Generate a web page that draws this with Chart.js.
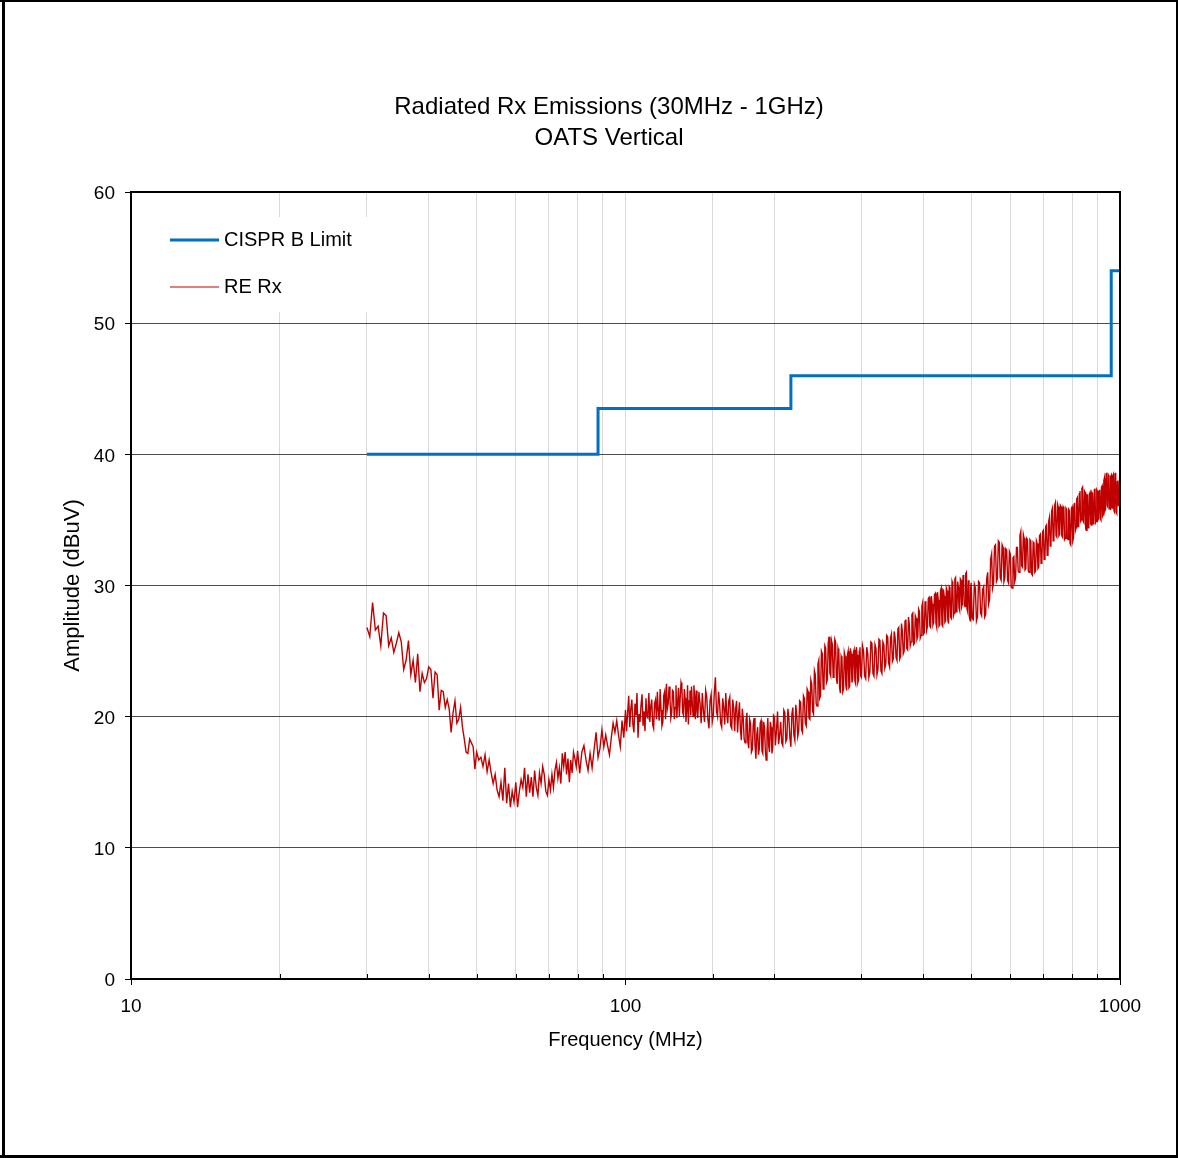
<!DOCTYPE html>
<html>
<head>
<meta charset="utf-8">
<script src="https://cdn.jsdelivr.net/npm/chart.js@4/dist/chart.umd.min.js"></script>
<style>
  html, body { margin: 0; padding: 0; background: #fff; }
  #wrap { width: 1178px; height: 1158px; }
</style>
</head>
<body>
<div id="wrap"><canvas id="chart" width="1178" height="1158"></canvas></div>
<script>
// CISPR B limit, stepped (MHz, dBuV)
const limitFreq = [30, 88, 88, 216, 216, 960, 960, 1000];
const limitLevel = [40, 40, 43.5, 43.5, 46, 46, 54, 54];

// Receiver scan: [frequency MHz, level dBuV]
const rxScan = [
  // 30 - 100 MHz
  [30.0,26.8],[30.4,26.1],[30.8,28.7],[31.2,26.6],[31.6,26.9],[32.0,25.4],[32.4,27.9],[32.8,27.7],[33.2,25.4],[33.6,26.0],
  [34.0,24.9],[34.4,25.6],[34.8,26.4],[35.2,25.7],[35.6,23.6],[36.0,24.3],[36.4,25.8],[36.8,23.2],[37.2,24.3],[37.6,22.6],
  [38.0,24.8],[38.4,21.9],[38.8,23.3],[39.2,22.6],[39.6,22.9],[40.0,23.8],[40.4,23.6],[40.8,21.4],[41.2,23.4],[41.6,23.2],
  [42.0,20.5],[42.4,22.0],[42.8,21.9],[43.2,20.7],[43.6,21.3],[44.0,20.6],[44.4,18.8],[44.8,20.3],[45.2,21.2],[45.6,19.5],
  [46.0,19.8],[46.4,20.7],[46.8,19.2],[47.2,18.3],[47.6,17.3],[48.0,17.2],[48.4,18.3],[48.8,18.0],[49.2,17.7],[49.6,16.0],
  [50.0,17.3],[50.5,16.7],[51.0,16.9],[51.5,16.2],[52.0,17.1],[52.5,15.8],[53.0,16.7],[53.5,15.7],[54.0,14.9],[54.5,15.6],
  [55.0,14.4],[55.5,13.9],[56.0,15.0],[56.5,13.6],[57.0,16.1],[57.5,13.4],[58.0,14.9],[58.5,13.1],[59.0,14.3],[59.5,13.5],
  [60.0,15.0],[60.5,13.1],[61.0,14.3],[61.5,15.2],[62.0,14.6],[62.5,16.1],[63.0,13.9],[63.5,15.6],[64.0,14.2],[64.5,15.4],
  [65.0,13.9],[65.5,15.9],[66.0,14.6],[66.5,14.0],[67.0,15.7],[67.5,14.9],[68.0,16.2],[68.5,15.6],[69.0,14.3],[69.5,14.0],
  [70.0,15.2],[70.5,14.4],[71.0,15.6],[71.5,14.6],[72.0,15.9],[72.5,16.5],[73.0,15.3],[73.5,16.1],[74.0,14.9],[74.5,17.2],
  [75.0,16.2],[75.5,17.3],[76.0,15.6],[76.5,16.8],[77.0,15.0],[77.5,16.7],[78.0,15.7],[78.5,17.3],[79.0,16.8],[79.5,16.2],
  [80.0,17.4],[80.8,15.7],[81.6,17.3],[82.4,17.8],[83.2,16.7],[84.0,15.9],[84.8,17.2],[85.6,16.1],[86.4,17.5],[87.2,18.8],
  [88.0,16.9],[88.8,17.6],[89.6,19.0],[90.4,17.7],[91.2,18.6],[92.0,17.8],[92.8,17.1],[93.6,18.4],[94.4,19.5],[95.2,18.8],
  [96.0,19.7],[96.8,18.6],[97.6,17.7],[98.4,19.7],[99.2,18.4],
  // 100 - 140 MHz
  [100,20.5],[100.5,18.9],[101,20.3],[101.5,21.6],[102,19.2],[102.5,20.6],[103,21.3],[103.5,19.4],[104,18.8],[104.5,21.0],
  [105,20.1],[105.5,21.8],[106,18.4],[106.5,20.2],[107,19.6],[107.5,20.9],[108,21.7],[108.5,19.3],[109,20.4],[109.5,18.9],
  [110,21.4],[110.5,20.0],[111,19.9],[111.5,21.8],[112,19.6],[112.5,20.8],[113,21.3],[113.5,19.4],[114,19.1],[114.5,21.0],
  [115,21.3],[115.5,19.8],[116,21.9],[116.5,20.4],[117,19.7],[117.5,22.1],[118,20.5],[118.5,19.3],[119,19.6],[119.5,21.6],
  [120,21.9],[120.5,19.8],[121,22.5],[121.5,20.6],[122,21.0],[122.5,22.3],[123,21.4],[123.5,19.9],[124,20.3],[124.5,22.0],
  [125,21.9],[125.5,19.8],[126,20.7],[126.5,22.4],[127,19.9],[127.5,21.1],[128,22.2],[128.5,20.0],[129,21.4],[129.5,22.6],
  [130,22.3],[130.5,20.3],[131,20.1],[131.5,22.1],[132,21.4],[132.5,19.6],[133,20.5],[133.5,22.4],[134,19.4],[134.5,21.2],
  [135,22.0],[135.5,20.1],[136,22.3],[136.5,21.0],[137,20.0],[137.5,22.4],[138,21.5],[138.5,19.8],[139,22.0],[139.5,20.6],
  // 140 - 200 MHz
  [140,19.9],[140.75,21.9],[141.5,21.0],[142.25,19.5],[143,21.8],[143.75,20.4],[144.5,19.6],[145.25,22.0],[146,21.5],[146.75,19.8],
  [147.5,19.1],[148.25,21.2],[149,21.7],[149.75,19.6],[150.5,20.1],[151.25,21.9],[152,23.0],[152.75,20.4],[153.5,20.0],[154.25,21.9],
  [155,21.0],[155.75,19.5],[156.5,19.2],[157.25,21.4],[158,20.7],[158.75,19.4],[159.5,21.8],[160.25,20.2],[161,19.5],[161.75,21.2],
  [162.5,21.5],[163.25,19.3],[164,19.1],[164.75,21.3],[165.5,20.7],[166.25,18.9],[167,20.6],[167.75,21.2],[168.5,18.8],[169.25,20.1],
  [170,21.1],[170.75,19.0],[171.5,18.2],[172.25,20.6],[173,19.9],[173.75,18.3],[174.5,18.0],[175.25,19.7],[176,20.3],[176.75,18.1],
  [177.5,17.6],[178.25,19.8],[179,19.5],[179.75,17.3],[180.5,17.5],[181.25,19.4],[182,19.9],[182.75,17.9],[183.5,16.8],[184.25,18.6],
  [185,19.2],[185.75,17.1],[186.5,17.6],[187.25,19.5],[188,19.7],[188.75,17.4],[189.5,17.2],[190.25,19.6],[191,19.2],[191.75,17.5],
  [192.5,16.7],[193.25,18.8],[194,19.9],[194.75,17.8],[195.5,17.3],[196.25,19.6],[197,19.2],[197.75,17.2],[198.5,17.7],[199.25,20.1],
  // 200 - 300 MHz
  [200,20.0],[201,17.8],[202,19.0],[203,20.4],[204,17.9],[205,18.6],[206,19.6],[207,18.0],[208,17.8],[209,20.5],
  [210,20.3],[211,18.1],[212,18.3],[213,20.6],[214,19.9],[215,18.4],[216,17.7],[217,20.2],[218,20.7],[219,18.6],
  [220,18.2],[221,20.9],[222,20.1],[223,18.5],[224,18.9],[225,21.2],[226,21.1],[227,19.0],[228,18.8],[229,21.6],
  [230,21.4],[231,19.5],[232,19.3],[233,22.1],[234,21.9],[235,19.9],[236,19.8],[237,22.8],[238,22.5],[239,20.4],
  [240,20.2],[241,23.5],[242,23.2],[243,21.0],[244,20.8],[245,24.0],[246,24.3],[247,21.4],[248,21.6],[249,25.0],
  [250,24.8],[251,22.1],[252,22.4],[253,25.4],[254,25.2],[255,22.6],[256,22.8],[257,25.6],[258,26.1],[259,23.3],
  [260,23.1],[261,25.8],[262,25.5],[263,23.0],[264,23.4],[265,25.9],[266,25.7],[267,22.9],[268,22.5],[269,25.2],
  [270,24.9],[271,22.2],[272,21.8],[273,24.6],[274,24.4],[275,21.9],[276,22.1],[277,24.9],[278,24.6],[279,22.4],
  [280,22.0],[281,24.7],[282,25.0],[283,22.2],[284,22.3],[285,25.2],[286,24.8],[287,22.6],[288,22.9],[289,24.9],
  [290,25.1],[291,22.7],[292,22.5],[293,25.3],[294,24.7],[295,22.6],[296,22.8],[297,25.0],[298,25.3],[299,23.1],
  // 300 - 500 MHz
  [300,23.0],[301.5,25.4],[303,25.0],[304.5,23.1],[306,22.9],[307.5,25.3],[309,24.8],[310.5,23.0],[312,23.4],[313.5,25.7],
  [315,25.6],[316.5,23.3],[318,23.1],[319.5,25.5],[321,25.2],[322.5,23.2],[324,23.6],[325.5,25.9],[327,25.8],[328.5,23.5],
  [330,23.3],[331.5,25.7],[333,25.5],[334.5,23.7],[336,24.0],[337.5,26.2],[339,26.1],[340.5,24.1],[342,23.8],[343.5,26.0],
  [345,26.3],[346.5,24.2],[348,24.4],[349.5,26.5],[351,26.0],[352.5,24.5],[354,24.3],[355.5,26.7],[357,26.8],[358.5,24.4],
  [360,24.6],[361.5,27.1],[363,26.5],[364.5,24.8],[366,25.0],[367.5,27.3],[369,27.4],[370.5,25.2],[372,25.1],[373.5,27.6],
  [375,27.0],[376.5,25.4],[378,25.7],[379.5,27.8],[381,27.9],[382.5,25.5],[384,25.6],[385.5,27.7],[387,27.5],[388.5,25.9],
  [390,26.1],[391.5,28.2],[393,28.0],[394.5,26.0],[396,26.2],[397.5,28.4],[399,28.7],[400.5,26.3],[402,26.4],[403.5,28.8],
  [405,28.3],[406.5,26.6],[408,26.9],[409.5,29.0],[411,29.1],[412.5,26.9],[414,26.8],[415.5,29.2],[417,28.6],[418.5,27.0],
  [420,27.2],[421.5,29.3],[423,29.4],[424.5,27.1],[426,26.8],[427.5,29.5],[429,28.9],[430.5,26.9],[432,27.0],[433.5,29.6],
  [435,29.8],[436.5,27.0],[438,26.9],[439.5,29.7],[441,29.2],[442.5,27.2],[444,27.3],[445.5,29.8],[447,29.6],[448.5,27.4],
  [450,27.1],[451.5,29.9],[453,29.8],[454.5,27.6],[456,27.5],[457.5,30.3],[459,30.1],[460.5,27.7],[462,27.9],[463.5,30.5],
  [465,30.6],[466.5,28.0],[468,28.2],[469.5,30.3],[471,29.9],[472.5,28.3],[474,28.1],[475.5,30.5],[477,30.4],[478.5,28.4],
  [480,28.6],[481.5,30.8],[483,30.2],[484.5,28.5],[486,28.4],[487.5,30.9],[489,31.0],[490.5,28.2],[492,28.0],[493.5,30.4],
  [495,30.0],[496.5,27.5],[498,27.3],[499,29.8],
  // 500 - 1000 MHz
  [500,30.2],[502.5,27.5],[505,27.4],[507.5,30.1],[510,29.8],[512.5,27.3],[515,27.6],[517.5,30.3],[520,30.2],[522.5,27.9],
  [525,27.7],[527.5,29.7],[530,29.9],[532.5,27.6],[535,27.8],[537.5,30.5],[540,31.0],[542.5,28.6],[545,29.0],[547.5,32.0],
  [550,32.4],[552.5,29.8],[555,30.2],[557.5,33.0],[560,33.1],[562.5,30.3],[565,30.5],[567.5,33.4],[570,33.3],[572.5,30.6],
  [575,30.4],[577.5,33.1],[580,32.9],[582.5,30.3],[585,30.6],[587.5,32.8],[590,32.7],[592.5,30.4],[595,30.2],[597.5,32.6],
  [600,32.4],[602.5,29.9],[605,29.8],[607.5,32.1],[610,32.2],[612.5,30.3],[615,30.6],[617.5,32.9],[620,32.9],[622.5,31.1],
  [625,31.0],[627.5,33.8],[630,34.1],[632.5,31.5],[635,31.4],[637.5,33.9],[640,33.6],[642.5,31.2],[645,31.3],[647.5,33.6],
  [650,33.5],[652.5,31.1],[655,31.0],[657.5,33.5],[660,33.4],[662.5,30.9],[665,30.8],[667.5,33.3],[670,33.2],[672.5,31.0],
  [675,31.1],[677.5,33.4],[680,33.2],[682.5,31.3],[685,31.4],[687.5,33.8],[690,33.9],[692.5,31.7],[695,31.9],[697.5,34.1],
  [700,34.2],[702.5,32.0],[705,32.1],[707.5,34.5],[710,34.6],[712.5,32.3],[715,32.4],[717.5,34.9],[720,35.2],[722.5,33.0],
  [725,33.2],[727.5,35.7],[730,35.9],[732.5,33.4],[735,33.5],[737.5,36.1],[740,36.3],[742.5,33.8],[745,33.7],[747.5,36.2],
  [750,36.0],[752.5,33.8],[755,33.9],[757.5,36.1],[760,36.0],[762.5,33.8],[765,33.7],[767.5,36.0],[770,35.9],[772.5,33.5],
  [775,33.6],[777.5,35.9],[780,35.8],[782.5,33.6],[785,33.5],[787.5,35.8],[790,35.7],[792.5,33.2],[795,33.1],[797.5,35.9],
  [800,36.0],[802.5,33.4],[805,33.6],[807.5,36.2],[810,36.3],[812.5,34.2],[815,34.4],[817.5,36.6],[820,36.7],[822.5,34.5],
  [825,34.6],[827.5,37.0],[830,37.2],[832.5,34.9],[835,35.0],[837.5,37.4],[840,37.5],[842.5,34.9],[845,34.8],[847.5,37.2],
  [850,37.1],[852.5,34.3],[855,34.2],[857.5,36.9],[860,36.9],[862.5,34.4],[865,34.5],[867.5,37.0],[870,37.1],[872.5,34.7],
  [875,34.6],[877.5,37.1],[880,37.0],[882.5,34.7],[885,34.8],[887.5,37.3],[890,37.4],[892.5,34.8],[895,34.9],[897.5,37.3],
  [900,37.2],[902.5,35.0],[905,35.1],[907.5,37.2],[910,37.3],[912.5,35.1],[915,35.0],[917.5,37.5],[920,37.6],[922.5,35.3],
  [925,35.4],[927.5,38.0],[930,38.2],[932.5,35.7],[935,35.8],[937.5,38.5],[940,38.6],[942.5,36.1],[945,36.0],[947.5,38.4],
  [950,38.3],[952.5,35.9],[955,35.8],[957.5,38.3],[960,38.4],[962.5,36.0],[965,35.9],[967.5,38.4],[970,38.5],[972.5,35.7],
  [975,35.6],[977.5,38.5],[980,38.6],[982.5,35.6],[985,35.5],[987.5,37.9],[990,38.0],[992.5,36.1],[995,36.2],[997.5,37.8],
  [1000,37.6]
];

const xLabelled = [10, 100, 1000];
const titleLines = ['Radiated Rx Emissions (30MHz - 1GHz)', 'OATS Vertical'];
const FONT = '"Liberation Sans", Arial, sans-serif';

const isMajor = (v) => xLabelled.includes(Math.round(v));

// White page, outer frame and the two-line title.
const pagePlugin = {
  id: 'page',
  beforeDraw(chart) {
    const { ctx } = chart;
    ctx.save();
    ctx.fillStyle = '#fff';
    ctx.fillRect(0, 0, chart.width, chart.height);
    ctx.fillStyle = '#000';
    ctx.fillRect(2, 0, 3, chart.height);
    ctx.fillRect(0, 0, chart.width, 2);
    ctx.fillRect(0, chart.height - 3, chart.width, 3);
    ctx.fillRect(chart.width - 2, 0, 2, chart.height);
    ctx.font = '24px ' + FONT;
    ctx.textAlign = 'center';
    ctx.textBaseline = 'middle';
    ctx.fillText(titleLines[0], 609, 107);
    ctx.fillText(titleLines[1], 609, 138);
    ctx.restore();
  },
  // legend box sits on top of the grid, below the traces
  beforeDatasetsDraw(chart) {
    const { ctx, chartArea } = chart;
    const ds = chart.data.datasets;
    ctx.save();
    ctx.fillStyle = '#fff';
    ctx.fillRect(chartArea.left + 1, 217, 238, 95);
    ctx.font = '20px ' + FONT;
    ctx.textBaseline = 'middle';
    ctx.textAlign = 'left';
    [[240, ds[0], 3], [287, ds[1], 1]].forEach(([y, d, w]) => {
      ctx.strokeStyle = d.borderColor;
      ctx.lineWidth = w;
      ctx.beginPath();
      ctx.moveTo(170, y);
      ctx.lineTo(219, y);
      ctx.stroke();
      ctx.fillStyle = '#000';
      ctx.fillText(d.label, 224, y);
    });
    ctx.restore();
  },
  afterDraw(chart) {
    const { ctx, chartArea } = chart;
    const xs = chart.scales.x;
    ctx.save();
    ctx.strokeStyle = '#000';
    ctx.lineWidth = 2;
    ctx.strokeRect(chartArea.left, chartArea.top, chartArea.right - chartArea.left, chartArea.bottom - chartArea.top);
    // small inward ticks on the minor decades
    ctx.lineWidth = 1;
    xs.ticks.forEach((t) => {
      if (isMajor(t.value)) return;
      const px = Math.round(xs.getPixelForValue(t.value)) + 0.5;
      ctx.beginPath();
      ctx.moveTo(px, chartArea.bottom);
      ctx.lineTo(px, chartArea.bottom - 5);
      ctx.stroke();
    });
    ctx.restore();
  },
};

new Chart(document.getElementById('chart'), {
  type: 'line',
  plugins: [pagePlugin],
  data: {
    datasets: [
      {
        label: 'CISPR B Limit',
        data: limitFreq.map((f, i) => ({ x: f, y: limitLevel[i] })),
        borderColor: '#0070C0',
        borderWidth: 3,
        pointRadius: 0,
        tension: 0,
      },
      {
        label: 'RE Rx',
        data: rxScan.map(([f, a]) => ({ x: f, y: a })),
        borderColor: '#C00000',
        borderWidth: 1.4,
        pointRadius: 0,
        tension: 0,
      },
    ],
  },
  options: {
    responsive: false,
    animation: false,
    devicePixelRatio: 1,
    layout: { padding: { left: 0, top: 192, right: 58, bottom: 0 } },
    plugins: {
      legend: { display: false },
      title: { display: false },
      tooltip: { enabled: false },
    },
    scales: {
      x: {
        type: 'logarithmic',
        min: 10,
        max: 1000,
        afterFit: (s) => { s.height = 179; },
        border: { display: true, color: '#000', width: 2 },
        grid: {
          color: '#d9d9d9',
          lineWidth: 1,
          tickLength: 6,
          tickColor: (c) => (c.tick && isMajor(c.tick.value) ? '#000' : 'rgba(0,0,0,0)'),
        },
        ticks: {
          autoSkip: false,
          maxRotation: 0,
          padding: 10,
          color: '#000',
          font: { family: FONT, size: 19 },
          callback: (v) => (isMajor(v) ? String(Math.round(v)) : ''),
        },
        title: {
          display: true,
          text: 'Frequency (MHz)',
          color: '#000',
          font: { family: FONT, size: 20 },
          padding: { top: 0, bottom: 106 },
        },
      },
      y: {
        min: 0,
        max: 60,
        afterFit: (s) => { s.width = 131; },
        border: { display: true, color: '#000', width: 2 },
        grid: { color: '#4d4d4d', lineWidth: 1, tickLength: 6, tickColor: '#000' },
        ticks: {
          stepSize: 10,
          padding: 10,
          labelOffset: 2,
          color: '#000',
          font: { family: FONT, size: 19 },
        },
        title: {
          display: true,
          text: 'Amplitude (dBuV)',
          color: '#000',
          font: { family: FONT, size: 22 },
          padding: { top: 60, bottom: 0 },
        },
      },
    },
  },
});
</script>
</body>
</html>
